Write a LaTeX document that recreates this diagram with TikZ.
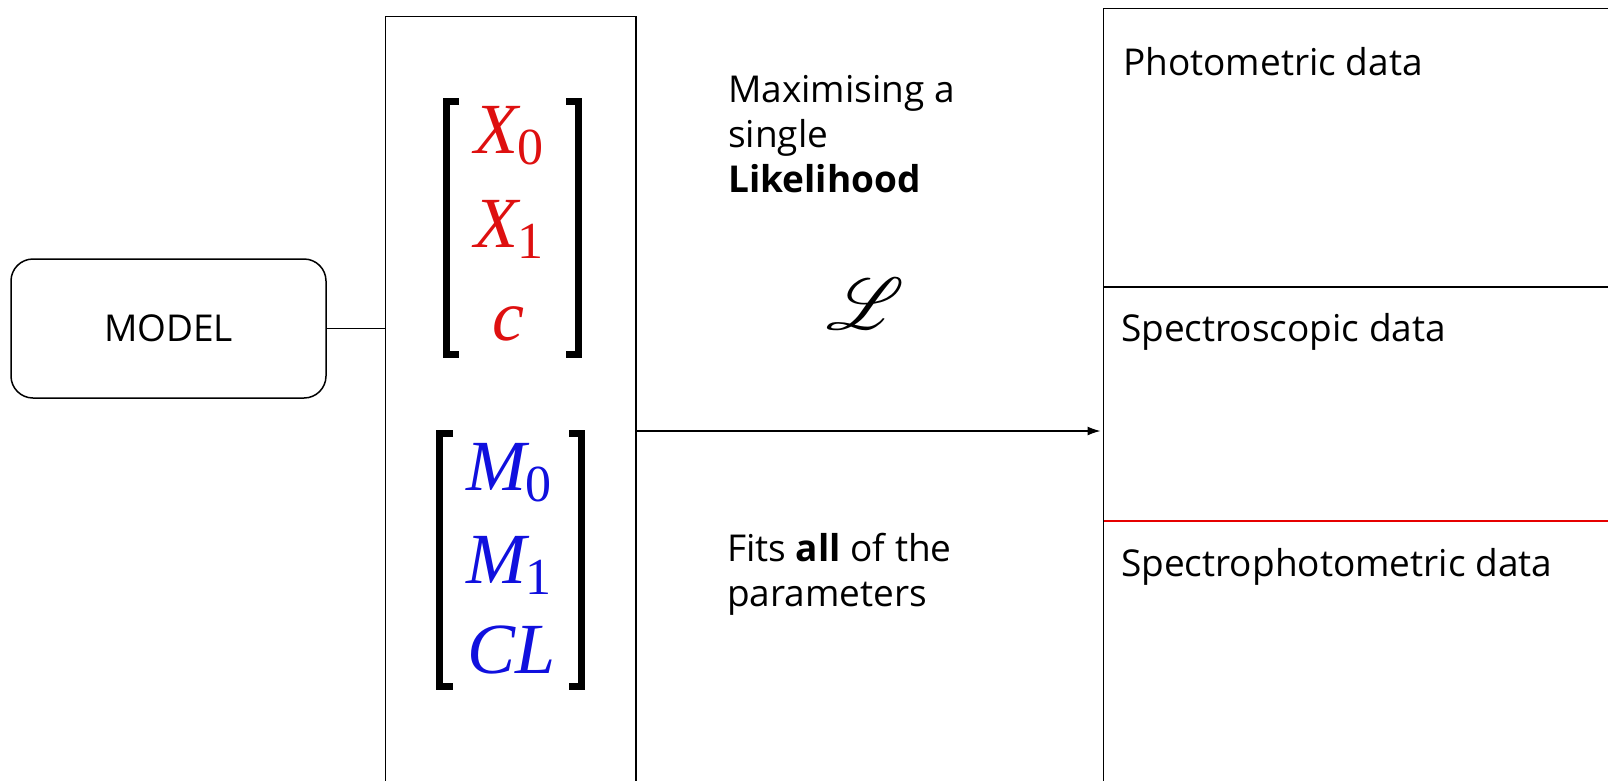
\documentclass[tikz,border=0pt]{standalone}
\usepackage{fontspec}
\setmainfont{Open Sans}
\newfontfamily\tms{Liberation Serif}
\newfontfamily\tmsit{Liberation Serif Italic}
\usepackage{graphicx}
\usepackage{mathrsfs}
\usetikzlibrary{arrows.meta}
\definecolor{mred}{RGB}{222,16,16}
\definecolor{mblue}{RGB}{16,16,222}
\definecolor{divred}{RGB}{230,0,0}
\tikzset{
  box/.style={draw, line width=1.5pt, outer sep=0pt, inner sep=0pt},
  txt/.style={font=\fontsize{37}{45}\selectfont, inner sep=0pt, anchor=base west},
  ent/.style={inner sep=0pt, anchor=base},
  brk/.style={line width=7pt, line join=miter, line cap=butt},
  conn/.style={line width=1.5pt},
}
\newcommand{\ital}[1]{{\tmsit\fontsize{72}{72}\selectfont #1}}
\newcommand{\sbs}[1]{\raisebox{-11pt}{\tms\fontsize{52}{52}\selectfont #1}}
\begin{document}
\begin{tikzpicture}[x=1pt,y=-1pt]
\useasboundingbox (0,0) rectangle (1608,780);
\clip (0,0) rectangle (1608,780);
% boxes
\node[box, rounded corners=22pt, minimum width=315pt, minimum height=139pt,
      font=\fontsize{37}{45}\selectfont] (model) at (168.5,328.5) {MODEL};
\node[box, minimum width=250.5pt, minimum height=800pt, anchor=north west] (mid) at (385.5,16.5) {};
\node[box, minimum width=560pt, minimum height=820pt, anchor=north west] (data) at (1103.5,8.5) {};
% connectors
\draw[conn] (model.east) -- (model.east -| mid.west);
\coordinate (aout) at (mid.east |- 0,431);
\draw[line width=1.3pt, -{Latex[length=13pt,width=9pt]}, shorten >=3pt] (aout) -- (aout -| data.west);
% dividers
\draw[conn] (data.west |- 0,287) -- (data.east |- 0,287);
\draw[conn, divred] (data.west |- 0,521) -- (data.east |- 0,521);
% texts
\node[txt] (t1) at (728,102) {Maximising a};
\node[txt] (t2) at (728,147) {single};
\node[txt] (t3) at (728,192) {\bfseries Likelihood};
\node[txt] (t4) at (727,561) {Fits \textbf{all} of the};
\node[txt] (t5) at (727,606) {parameters};
\node[txt] (p1) at (1123,75) {Photometric data};
\node[txt] (p2) at (1121,341) {Spectroscopic data};
\node[txt] (p3) at (1121,576) {Spectrophotometric data};
\node[inner sep=0pt] (lik) at (865,304) {\scalebox{7.3}{$\mathscr{L}$}};
% red matrix
\node[ent, text=mred] (x0) at (509,153) {\ital{X}\sbs{0}};
\node[ent, text=mred] (x1) at (509,247) {\ital{X}\sbs{1}};
\node[ent, text=mred] (cc) at (508,340) {\ital{c}};
\draw[brk] (459,101.5) -- (446,101.5) -- (446,354.5) -- (459,354.5);
\draw[brk] (566,101.5) -- (578,101.5) -- (578,354.5) -- (566,354.5);
% blue matrix
\node[ent, text=mblue] (m0) at (509,490) {\ital{M}\sbs{0}};
\node[ent, text=mblue] (m1) at (509,583) {\ital{M}\sbs{1}};
\node[ent, text=mblue] (cl) at (512,673) {\ital{CL}};
\draw[brk] (453,433.5) -- (439,433.5) -- (439,686.5) -- (453,686.5);
\draw[brk] (569,433.5) -- (581,433.5) -- (581,686.5) -- (569,686.5);
\end{tikzpicture}
\end{document}
